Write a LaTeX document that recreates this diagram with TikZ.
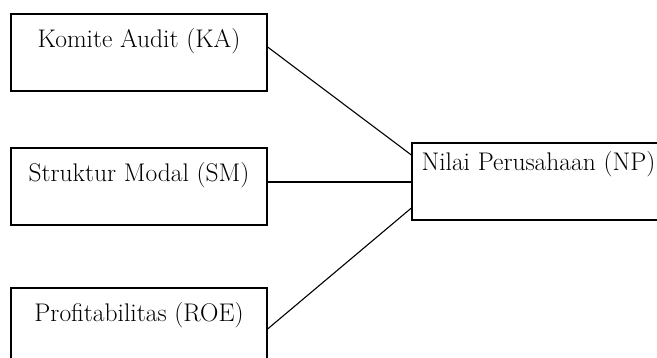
\documentclass[tikz,border=0pt]{standalone}
\begin{document}
\begin{tikzpicture}[x=1pt,y=-1pt,
  varbox/.style={draw=black,line width=1.2pt,rectangle,minimum width=256pt,minimum height=77pt,inner sep=0pt},
  vartext/.style={font=\fontsize{25.5}{30}\selectfont,inner sep=0pt,anchor=center},
  link/.style={draw=black,line width=1.1pt}]
\useasboundingbox (0,0) rectangle (657,358);
\clip (0,0) rectangle (657,358);
\node[varbox] (ka) at (139,52.5) {};
\node[vartext] (kat) at ([yshift=-28pt]ka.north) {Komite Audit (KA)};
\node[varbox] (sm) at (139,186.5) {};
\node[vartext] (smt) at ([yshift=-28pt]sm.north) {Struktur Modal (SM)};
\node[varbox] (roe) at (139,326.5) {};
\node[vartext] (roet) at ([yshift=-28pt]roe.north) {Profitabilitas (ROE)};
\node[varbox,minimum width=262pt] (np) at (543,181.5) {};
\node[vartext,anchor=west] (npt) at ([xshift=10pt,yshift=-22pt]np.north west) {Nilai Perusahaan (NP)};
\draw[link] ([yshift=5.5pt]ka.east) -- ([yshift=26.5pt]np.west);
\draw[link] ([yshift=4.5pt]sm.east) -- ([yshift=4.5pt]sm.east -| np.west);
\draw[link] ([yshift=-2.5pt]roe.east) -- ([yshift=-26.5pt]np.west);
\end{tikzpicture}
\end{document}
